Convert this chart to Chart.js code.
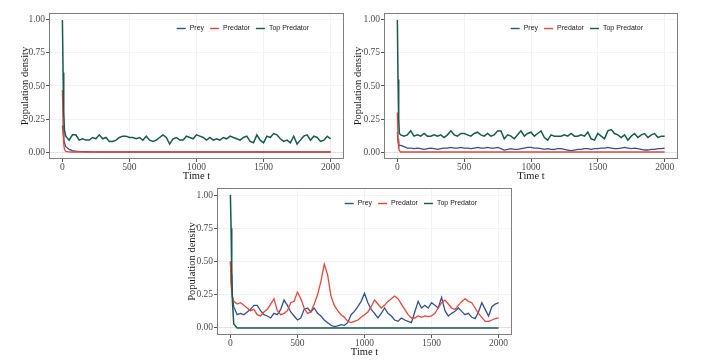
<!DOCTYPE html>
<html>
<head>
<meta charset="utf-8">
<script src="https://cdn.jsdelivr.net/npm/chart.js@4.4.1/dist/chart.umd.min.js"></script>
<style>
  body { margin: 0; background: #fff; overflow: hidden; }
  canvas { position: absolute; }
</style>
</head>
<body>
<canvas id="panelA" width="352" height="186" style="left:0px;top:0px"></canvas>
<canvas id="panelB" width="352" height="186" style="left:351px;top:0px"></canvas>
<canvas id="panelC" width="370" height="181" style="left:170px;top:181px"></canvas>
<script>
// time points (shared by all series)
const times = [0, 5, 10, 15,
	25, 50, 75, 100, 125, 150, 175, 200, 225, 250,
	275, 300, 325, 350, 375, 400, 425, 450, 475, 500,
	525, 550, 575, 600, 625, 650, 675, 700, 725, 750,
	775, 800, 825, 850, 875, 900, 925, 950, 975, 1000,
	1025, 1050, 1075, 1100, 1125, 1150, 1175, 1200, 1225, 1250,
	1275, 1300, 1325, 1350, 1375, 1400, 1425, 1450, 1475, 1500,
	1525, 1550, 1575, 1600, 1625, 1650, 1675, 1700, 1725, 1750,
	1775, 1800, 1825, 1850, 1875, 1900, 1925, 1950, 1975, 2000];

const seriesNames = ["Prey", "Predator", "Top Predator"];
const xTicks = [0, 500, 1000, 1500, 2000];
const yTicks = [0, 0.25, 0.5, 0.75, 1];

// panel A (top left)
const preyA = [0.20, 0.15, 0.10, 0.07,
	0.04, 0.02, 0.01, 0.006, 0.004, 0.003, 0.002, 0.002, 0.001, 0.001,
	0, 0, 0, 0, 0, 0, 0, 0, 0, 0,
	0, 0, 0, 0, 0, 0, 0, 0, 0, 0,
	0, 0, 0, 0, 0, 0, 0, 0, 0, 0,
	0, 0, 0, 0, 0, 0, 0, 0, 0, 0,
	0, 0, 0, 0, 0, 0, 0, 0, 0, 0,
	0, 0, 0, 0, 0, 0, 0, 0, 0, 0,
	0, 0, 0, 0, 0, 0, 0, 0, 0, 0];
const predatorA = [0.47, 0.20, 0.06, 0.02,
	0.005, 0.001, 0, 0, 0, 0, 0, 0, 0, 0,
	0, 0, 0, 0, 0, 0, 0, 0, 0, 0,
	0, 0, 0, 0, 0, 0, 0, 0, 0, 0,
	0, 0, 0, 0, 0, 0, 0, 0, 0, 0,
	0, 0, 0, 0, 0, 0, 0, 0, 0, 0,
	0, 0, 0, 0, 0, 0, 0, 0, 0, 0,
	0, 0, 0, 0, 0, 0, 0, 0, 0, 0,
	0, 0, 0, 0, 0, 0, 0, 0, 0, 0];
const topA = [1.00, 0.60, 0.30, 0.17,
	0.12, 0.09, 0.13, 0.13, 0.09, 0.10, 0.09, 0.09, 0.11, 0.10,
	0.13, 0.10, 0.11, 0.08, 0.08, 0.09, 0.11, 0.12, 0.12, 0.11,
	0.11, 0.10, 0.11, 0.09, 0.12, 0.09, 0.08, 0.09, 0.11, 0.13,
	0.11, 0.06, 0.10, 0.11, 0.09, 0.09, 0.12, 0.11, 0.10, 0.13,
	0.12, 0.11, 0.09, 0.11, 0.09, 0.10, 0.09, 0.11, 0.10, 0.12,
	0.11, 0.10, 0.09, 0.11, 0.12, 0.08, 0.07, 0.13, 0.09, 0.07,
	0.12, 0.11, 0.14, 0.13, 0.10, 0.08, 0.09, 0.07, 0.12, 0.06,
	0.09, 0.12, 0.13, 0.09, 0.12, 0.11, 0.08, 0.09, 0.12, 0.10];

// panel B (top right)
const preyB = [0.15, 0.08, 0.06, 0.05,
	0.05, 0.04, 0.03, 0.03, 0.025, 0.03, 0.025, 0.02, 0.025, 0.03,
	0.025, 0.02, 0.025, 0.03, 0.03, 0.035, 0.03, 0.03, 0.035, 0.03,
	0.03, 0.025, 0.03, 0.035, 0.03, 0.03, 0.035, 0.03, 0.03, 0.035,
	0.025, 0.015, 0.02, 0.025, 0.02, 0.02, 0.025, 0.03, 0.035, 0.035,
	0.03, 0.03, 0.025, 0.02, 0.025, 0.02, 0.02, 0.025, 0.025, 0.02,
	0.015, 0.01, 0.015, 0.02, 0.02, 0.025, 0.025, 0.02, 0.025, 0.025,
	0.03, 0.03, 0.035, 0.03, 0.025, 0.025, 0.03, 0.035, 0.03, 0.025,
	0.03, 0.025, 0.02, 0.015, 0.015, 0.02, 0.02, 0.025, 0.025, 0.03];
const predatorB = [0.30, 0.10, 0.03, 0.01,
	0, 0, 0, 0, 0, 0, 0, 0, 0, 0,
	0, 0, 0, 0, 0, 0, 0, 0, 0, 0,
	0, 0, 0, 0, 0, 0, 0, 0, 0, 0,
	0, 0, 0, 0, 0, 0, 0, 0, 0, 0,
	0, 0, 0, 0, 0, 0, 0, 0, 0, 0,
	0, 0, 0, 0, 0, 0, 0, 0, 0, 0,
	0, 0, 0, 0, 0, 0, 0, 0, 0, 0,
	0, 0, 0, 0, 0, 0, 0, 0, 0, 0];
const topB = [1.00, 0.55, 0.25, 0.14,
	0.13, 0.12, 0.13, 0.16, 0.12, 0.13, 0.12, 0.14, 0.12, 0.12,
	0.13, 0.12, 0.13, 0.11, 0.13, 0.16, 0.13, 0.12, 0.14, 0.14,
	0.13, 0.12, 0.14, 0.15, 0.13, 0.12, 0.14, 0.12, 0.13, 0.16,
	0.16, 0.10, 0.13, 0.12, 0.10, 0.13, 0.16, 0.12, 0.14, 0.15,
	0.12, 0.14, 0.16, 0.11, 0.09, 0.13, 0.12, 0.12, 0.12, 0.13,
	0.12, 0.14, 0.12, 0.12, 0.13, 0.12, 0.15, 0.10, 0.09, 0.14,
	0.12, 0.10, 0.16, 0.17, 0.14, 0.13, 0.11, 0.13, 0.09, 0.12,
	0.14, 0.11, 0.13, 0.14, 0.11, 0.13, 0.14, 0.11, 0.12, 0.12];

// panel C (bottom)
const preyC = [0.50, 0.40, 0.30, 0.23,
	0.16, 0.10, 0.11, 0.10, 0.12, 0.14, 0.17, 0.17, 0.13, 0.10,
	0.09, 0.075, 0.11, 0.10, 0.14, 0.21, 0.17, 0.12, 0.09, 0.06,
	0.075, 0.14, 0.15, 0.12, 0.15, 0.11, 0.09, 0.06, 0.04, 0.02,
	0.01, 0.015, 0.025, 0.02, 0.04, 0.10, 0.125, 0.16, 0.20, 0.26,
	0.19, 0.14, 0.11, 0.075, 0.11, 0.15, 0.11, 0.09, 0.06, 0.05,
	0.075, 0.06, 0.05, 0.04, 0.12, 0.20, 0.15, 0.17, 0.15, 0.19,
	0.17, 0.15, 0.23, 0.13, 0.09, 0.11, 0.125, 0.15, 0.125, 0.10,
	0.11, 0.08, 0.07, 0.12, 0.19, 0.14, 0.09, 0.16, 0.18, 0.19];
const predatorC = [0.50, 0.33, 0.28, 0.24,
	0.20, 0.18, 0.19, 0.17, 0.15, 0.13, 0.14, 0.10, 0.09, 0.12,
	0.14, 0.18, 0.22, 0.13, 0.10, 0.11, 0.13, 0.19, 0.20, 0.27,
	0.22, 0.15, 0.11, 0.12, 0.18, 0.25, 0.35, 0.48, 0.40, 0.24,
	0.17, 0.13, 0.10, 0.08, 0.05, 0.04, 0.05, 0.06, 0.08, 0.10,
	0.12, 0.16, 0.21, 0.18, 0.15, 0.17, 0.20, 0.22, 0.24, 0.22,
	0.18, 0.14, 0.10, 0.075, 0.075, 0.09, 0.08, 0.09, 0.085, 0.09,
	0.11, 0.15, 0.19, 0.21, 0.18, 0.15, 0.14, 0.17, 0.20, 0.22,
	0.20, 0.19, 0.15, 0.11, 0.08, 0.05, 0.05, 0.06, 0.07, 0.075];
const topC = [1.00, 0.75, 0.45, 0.20,
	0.03, 0, 0, 0, 0, 0, 0, 0, 0, 0,
	0, 0, 0, 0, 0, 0, 0, 0, 0, 0,
	0, 0, 0, 0, 0, 0, 0, 0, 0, 0,
	0, 0, 0, 0, 0, 0, 0, 0, 0, 0,
	0, 0, 0, 0, 0, 0, 0, 0, 0, 0,
	0, 0, 0, 0, 0, 0, 0, 0, 0, 0,
	0, 0, 0, 0, 0, 0, 0, 0, 0, 0,
	0, 0, 0, 0, 0, 0, 0, 0, 0, 0];

const colors = ["#34508f", "#e4473a", "#175a4e"];

// frame around the plot panel
const framePlugin = {
	id: "frame",
	afterDatasetsDraw(chart) {
		const { ctx, chartArea } = chart;
		ctx.save();
		ctx.strokeStyle = "#7f7f7f";
		ctx.lineWidth = 1;
		ctx.strokeRect(chartArea.left + 0.5, chartArea.top + 0.5,
			chartArea.width - 1, chartArea.height - 1);
		ctx.restore();
	},
};

// legend drawn inside the panel, top right
const innerLegend = {
	id: "innerLegend",
	afterDraw(chart) {
		const { ctx, chartArea } = chart;
		ctx.save();
		ctx.font = '7px "Liberation Sans"';
		const widths = seriesNames.map((n) => ctx.measureText(n).width);
		let total = 0;
		widths.forEach((w) => (total += 9 + 4 + w));
		total += 6 * (seriesNames.length - 1);
		let x = chartArea.right - 35 - total;
		const y = chartArea.top + 15;
		seriesNames.forEach((name, i) => {
			ctx.strokeStyle = colors[i];
			ctx.lineWidth = 1.4;
			ctx.beginPath();
			ctx.moveTo(x, y + 0.5);
			ctx.lineTo(x + 9, y + 0.5);
			ctx.stroke();
			ctx.fillStyle = "#1a1a1a";
			ctx.textBaseline = "middle";
			ctx.fillText(name, x + 13, y + 0.5);
			x += 13 + widths[i] + 6;
		});
		ctx.restore();
	},
};

function makePanel(id, prey, predator, top, pad, yWidth, xHeight, titleBottom) {
	const series = [prey, predator, top];
	const datasets = series.map((vals, i) => ({
		label: seriesNames[i],
		data: times.map((t, k) => ({ x: t, y: vals[k] })),
		borderColor: colors[i],
		borderWidth: i === 2 ? 1.5 : 1.3,
		pointRadius: 0,
		tension: 0,
		order: 2 - i,
	}));
	const ctx = document.getElementById(id).getContext("2d");
	new Chart(ctx, {
		type: "line",
		data: { datasets: datasets },
		plugins: [framePlugin, innerLegend],
		options: {
			responsive: false,
			animation: false,
			layout: { padding: pad },
			plugins: { legend: { display: false }, tooltip: { enabled: false } },
			scales: {
				x: {
					type: "linear",
					min: -100,
					max: 2100,
					afterBuildTicks: (s) => { s.ticks = xTicks.map((v) => ({ value: v })); },
					afterFit: (s) => { s.height = xHeight; },
					grid: { color: "#f2f2f2", tickColor: "#555", tickLength: 3 },
					border: { display: false },
					ticks: {
						padding: 0,
						color: "#4d4d4d",
						font: { family: "Liberation Serif", size: 9.5 },
						maxRotation: 0,
						callback: (v) => String(v),
					},
					title: {
						display: true,
						text: "Time t",
						color: "#1a1a1a",
						padding: { top: 0, bottom: titleBottom },
						font: { family: "Liberation Serif", size: 10.5 },
					},
				},
				y: {
					min: -0.053,
					max: 1.053,
					afterBuildTicks: (s) => { s.ticks = yTicks.map((v) => ({ value: v })); },
					afterFit: (s) => { s.width = yWidth; },
					grid: {
						color: (c) => (c.tick && c.tick.value === 0 ? "#e2e2e2" : "#f2f2f2"),
						tickColor: "#555",
						tickLength: 3,
					},
					border: { display: false },
					ticks: {
						padding: 1,
						color: "#4d4d4d",
						font: { family: "Liberation Serif", size: 9.5 },
						callback: (v) => Number(v).toFixed(2),
					},
					title: {
						display: true,
						text: "Population density",
						color: "#1a1a1a",
						padding: 0,
						font: { family: "Liberation Serif", size: 10.5 },
					},
				},
			},
		},
	});
}

makePanel("panelA", preyA, predatorA, topA, { left: 19, top: 13, right: 8, bottom: 0 }, 30, 27, 3);
makePanel("panelB", preyB, predatorB, topB, { left: 1, top: 13, right: 25, bottom: 0 }, 32, 27, 3);
makePanel("panelC", preyC, predatorC, topC, { left: 16, top: 7, right: 28, bottom: 0 }, 31, 27, 3);
</script>
</body>
</html>
